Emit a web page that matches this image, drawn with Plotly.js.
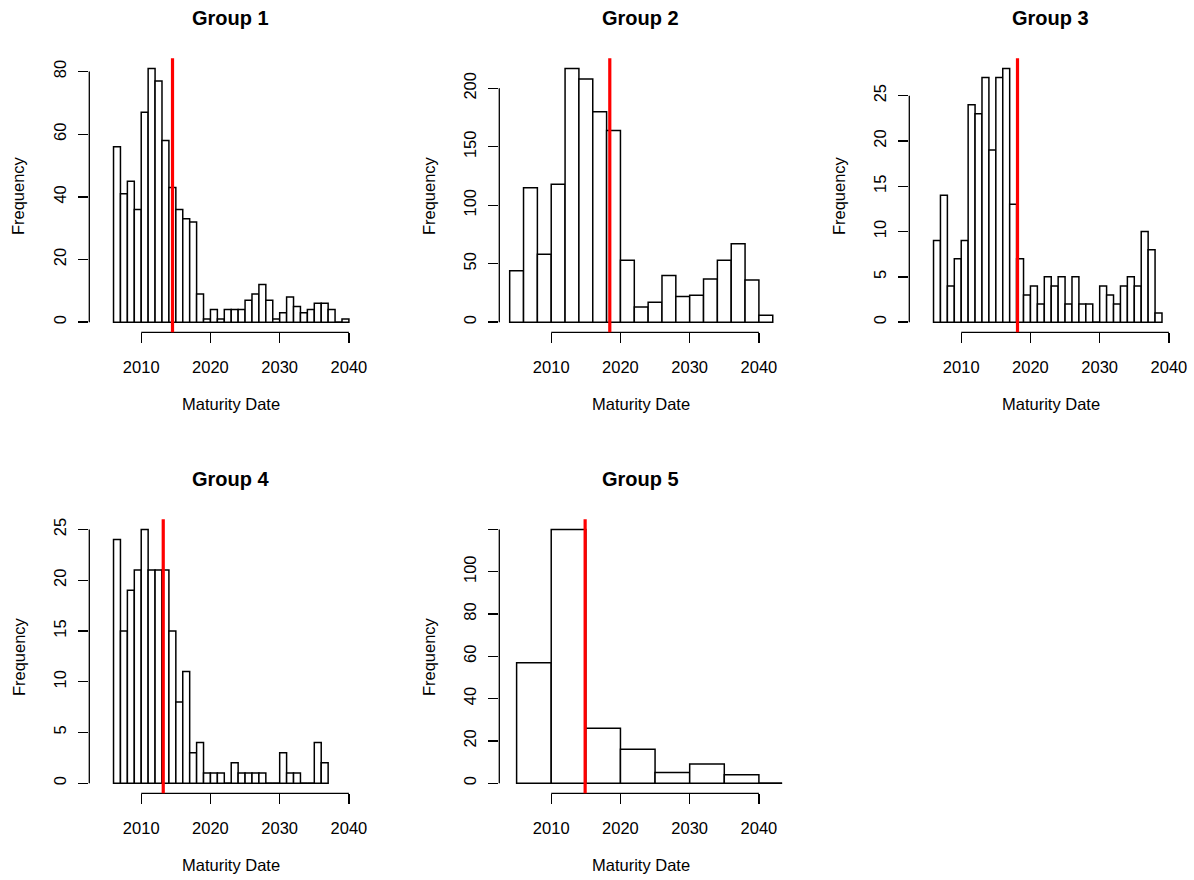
<!DOCTYPE html>
<html>
<head>
<meta charset="utf-8">
<script src="https://cdn.plot.ly/plotly-3.0.1.min.js"></script>
<style>
  html, body { margin: 0; padding: 0; background: #ffffff; }
  #chart { width: 1194px; height: 880px; }
</style>
</head>
<body>
<div id="chart"></div>
<script>
// ---------------- data ----------------
const groupNames = ['Group 1', 'Group 2', 'Group 3', 'Group 4', 'Group 5'];

const g1Counts = [56, 41, 45, 36, 67, 81, 77, 58, 43, 36, 33, 32, 9, 1, 4, 1, 4, 4, 4, 7, 9, 12, 7, 1, 3, 8, 5, 3, 4, 6, 6, 4, 0, 1];
const g2Counts = [44, 115, 58, 118, 217, 208, 180, 164, 53, 13, 17, 40, 22, 23, 37, 53, 67, 36, 6];
const g3Counts = [9, 14, 4, 7, 9, 24, 23, 27, 19, 27, 28, 13, 7, 3, 4, 2, 5, 4, 5, 2, 5, 2, 2, 0, 4, 3, 2, 4, 5, 4, 10, 8, 1];
const g4Counts = [24, 15, 19, 21, 25, 21, 21, 21, 15, 8, 11, 3, 4, 1, 1, 1, 0, 2, 1, 1, 1, 1, 0, 0, 3, 1, 1, 0, 0, 4, 2];
const g5Counts = [57, 120, 26, 16, 5, 9, 4, 0];

const binStarts = [2006, 2004, 2006, 2006, 2005];   // first break of each histogram
const binWidths = [1, 2, 1, 1, 5];                  // break spacing (years)
const meanDates = [2014.52, 2018.46, 2018.13, 2013.18, 2014.9]; // red vertical lines

const xTickVals = [2010, 2020, 2030, 2040];
const xTickText = ['2010', '2020', '2030', '2040'];

const yTickVals1 = [0, 20, 40, 60, 80];
const yTickVals2 = [0, 50, 100, 150, 200];
const yTickVals3 = [0, 5, 10, 15, 20, 25];
const yTickVals4 = [0, 5, 10, 15, 20, 25];
const yTickVals5 = [0, 20, 40, 60, 80, 100, 120];
const yTickText1 = ['0', '20', '40', '60', '80'];
const yTickText2 = ['0', '50', '100', '150', '200'];
const yTickText3 = ['0', '5', '10', '15', '20', '25'];
const yTickText4 = ['0', '5', '10', '15', '20', '25'];
const yTickText5 = ['0', '20', '40', '60', '80', '100', ''];

const xLabel = 'Maturity Date';
const yLabel = 'Frequency';

// ---------------- layout geometry (pixels) ----------------
const W = 1194, H = 880;
const colLeft = [89.3, 499.3, 909.3];
const rowTop = [58.3, 519.3];
const panelW = 282.8, panelH = 274;
const xRange = [2002.5, 2043.35];

const FONT = 'Liberation Sans, Arial, Helvetica, sans-serif';
const fs = 16.5;

const counts = [g1Counts, g2Counts, g3Counts, g4Counts, g5Counts];
const yTickVals = [yTickVals1, yTickVals2, yTickVals3, yTickVals4, yTickVals5];
const yTickText = [yTickText1, yTickText2, yTickText3, yTickText4, yTickText5];
const panelPos = [[0, 0], [1, 0], [2, 0], [0, 1], [1, 1]];

const data = [];
const shapes = [];
const annotations = [];
const layout = {
  width: W, height: H,
  margin: { l: 0, r: 0, t: 0, b: 0, pad: 0 },
  paper_bgcolor: '#ffffff', plot_bgcolor: 'rgba(0,0,0,0)',
  showlegend: false,
  font: { family: FONT, size: fs, color: '#000000' },
  bargap: 0
};

counts.forEach((c, i) => {
  const n = i + 1;
  const xa = n === 1 ? 'x' : 'x' + n;
  const ya = n === 1 ? 'y' : 'y' + n;
  const breaks = c.map((_, k) => binStarts[i] + k * binWidths[i]);
  breaks.push(binStarts[i] + c.length * binWidths[i]);
  const mids = c.map((_, k) => (breaks[k] + breaks[k + 1]) / 2);
  const widths = c.map((_, k) => breaks[k + 1] - breaks[k]);

  data.push({
    type: 'bar', x: mids, y: c, width: widths,
    xaxis: xa, yaxis: ya,
    marker: { color: '#ffffff', line: { color: '#000000', width: 1.5 } },
    hoverinfo: 'x+y'
  });

  const maxC = Math.max.apply(null, c);
  const [col, row] = panelPos[i];
  const x0 = colLeft[col] / W, x1 = (colLeft[col] + panelW) / W;
  const yTopPx = rowTop[row], yBotPx = rowTop[row] + panelH;
  const yd = [(H - yBotPx) / H, (H - yTopPx) / H];

  layout['xaxis' + (n === 1 ? '' : n)] = {
    domain: [x0, x1], anchor: ya, range: xRange,
    showgrid: false, zeroline: false, showline: false,
    tickmode: 'array', tickvals: xTickVals, ticktext: xTickText,
    ticks: 'outside', ticklen: 10, tickwidth: 1.3, tickcolor: '#000000',
    ticklabelstandoff: 10,
    tickfont: { family: FONT, size: fs, color: '#000000' },
    fixedrange: true
  };
  layout['yaxis' + (n === 1 ? '' : n)] = {
    domain: yd, anchor: xa, range: [-0.04 * maxC, 1.04 * maxC],
    showgrid: false, zeroline: false, showline: false,
    tickmode: 'array', tickvals: yTickVals[i], ticktext: yTickText[i],
    ticks: 'outside', ticklen: 10, tickwidth: 1.3, tickcolor: '#000000',
    tickangle: -90, ticklabelstandoff: 6,
    tickfont: { family: FONT, size: fs, color: '#000000' },
    fixedrange: true
  };

  // R-style axis lines spanning first..last tick
  shapes.push({
    type: 'line', xref: xa, yref: ya + ' domain',
    x0: xTickVals[0], x1: xTickVals[xTickVals.length - 1], y0: 0, y1: 0,
    line: { color: '#000000', width: 1.3 }
  });
  const yt = yTickVals[i];
  shapes.push({
    type: 'line', xref: xa + ' domain', yref: ya,
    x0: 0, x1: 0, y0: yt[0], y1: yt[yt.length - 1],
    line: { color: '#000000', width: 1.3 }
  });
  // histogram baseline (covers zero-count bins)
  shapes.push({
    type: 'line', xref: xa, yref: ya, layer: 'below',
    x0: breaks[0], x1: breaks[breaks.length - 1], y0: 0, y1: 0,
    line: { color: '#000000', width: 1.5 }
  });
  // mean line
  shapes.push({
    type: 'line', xref: xa, yref: ya + ' domain',
    x0: meanDates[i], x1: meanDates[i], y0: 0, y1: 1,
    line: { color: '#ff0000', width: 3.2 }
  });

  annotations.push({
    text: '<b>' + groupNames[i] + '</b>', xref: xa + ' domain', yref: ya + ' domain',
    x: 0.5, y: 1, yshift: 40, xanchor: 'center', yanchor: 'middle',
    showarrow: false, font: { family: FONT, size: 20, color: '#000000' }
  });
  annotations.push({
    text: xLabel, xref: xa + ' domain', yref: ya + ' domain',
    x: 0.5, y: 0, yshift: -72, xanchor: 'center', yanchor: 'middle',
    showarrow: false, font: { family: FONT, size: fs, color: '#000000' }
  });
  annotations.push({
    text: yLabel, xref: xa + ' domain', yref: ya + ' domain',
    x: 0, y: 0.5, xshift: -70.5, xanchor: 'center', yanchor: 'middle', textangle: -90,
    showarrow: false, font: { family: FONT, size: fs, color: '#000000' }
  });
});

layout.shapes = shapes;
layout.annotations = annotations;

Plotly.newPlot('chart', data, layout, { displayModeBar: false, staticPlot: true });
</script>
</body>
</html>
